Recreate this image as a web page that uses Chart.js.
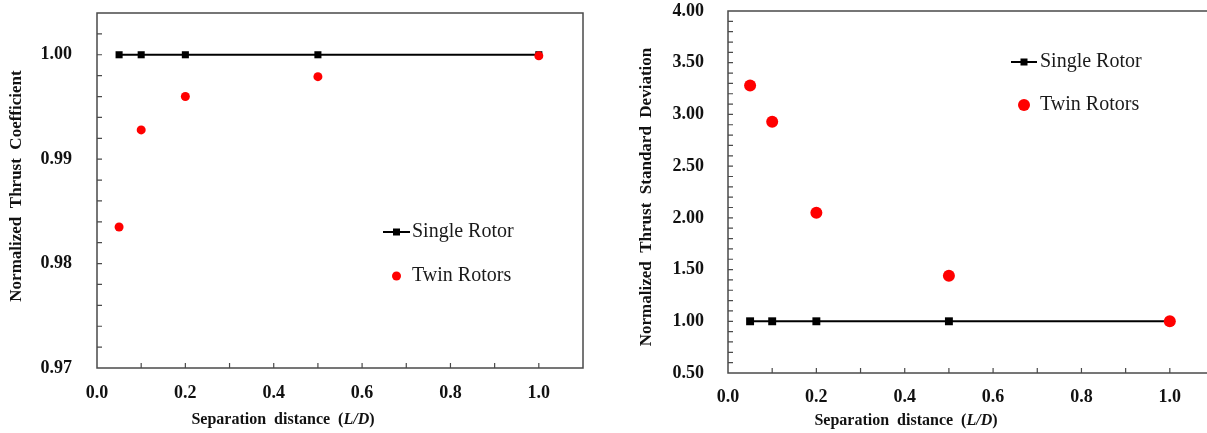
<!DOCTYPE html>
<html>
<head>
<meta charset="utf-8">
<script src="https://cdn.jsdelivr.net/npm/chart.js@4"></script>
<style>
  html, body { margin: 0; padding: 0; background: #fff; overflow: hidden; }
  .wrap { position: absolute; top: 0; height: 433px; }
  #w1 { left: 0; width: 603px; }
  #w2 { left: 603px; width: 620px; }
</style>
</head>
<body>
<div class="wrap" id="w1"><canvas id="c1"></canvas></div>
<div class="wrap" id="w2"><canvas id="c2"></canvas></div>
<script>
// ── Data ───────────────────────────────────────────────
const separation  = [0.05, 0.1, 0.2, 0.5, 1.0];
const singleThrust = [1.0, 1.0, 1.0, 1.0, 1.0];
const twinThrust   = [0.9835, 0.9928, 0.9960, 0.9979, 0.9999];
const singleStd    = [1.0, 1.0, 1.0, 1.0, 1.0];
const twinStd      = [3.28, 2.93, 2.05, 1.44, 1.00];

const SERIF = "'Liberation Serif', 'Times New Roman', serif";
const RED = '#ff0000';

// ── Helpers ────────────────────────────────────────────
const pts = (xs, ys) => xs.map((x, i) => ({ x, y: ys[i] }));
const isStep = (v, s) => Math.abs(v / s - Math.round(v / s)) < 1e-6;

// frame, inside ticks, titles and legend
const framePlugin = {
  id: 'frame',
  beforeDatasetsDraw(chart) {
    const { ctx, chartArea: a, scales: { x, y } } = chart;
    ctx.save();
    ctx.strokeStyle = '#4a4a4a';
    ctx.lineWidth = 1.5;
    ctx.strokeRect(a.left, a.top, a.right - a.left, a.bottom - a.top);
    ctx.lineWidth = 1.2;
    ctx.beginPath();
    x.ticks.forEach(t => {
      const px = x.getPixelForValue(t.value);
      if (px > a.left + 1 && px < a.right - 1) { ctx.moveTo(px, a.bottom); ctx.lineTo(px, a.bottom - 5); }
    });
    y.ticks.forEach(t => {
      const py = y.getPixelForValue(t.value);
      if (py > a.top + 1 && py < a.bottom - 1) { ctx.moveTo(a.left, py); ctx.lineTo(a.left + 5, py); }
    });
    ctx.stroke();
    ctx.restore();
  },
  afterDraw(chart, args, o) {
    const { ctx } = chart;
    ctx.save();
    ctx.fillStyle = '#111';
    // y title
    ctx.font = `bold 17px ${SERIF}`;
    ctx.textAlign = 'center';
    ctx.textBaseline = 'middle';
    ctx.translate(o.yTitleX, o.yTitleY);
    ctx.rotate(-Math.PI / 2);
    ctx.fillText(o.yTitle, 0, 0);
    ctx.setTransform(1, 0, 0, 1, 0, 0);

    // x title with italic L/D
    const parts = [
      ['Separation  distance  (', `bold 16px ${SERIF}`],
      ['L/D', `italic bold 16px ${SERIF}`],
      [')', `bold 16px ${SERIF}`]
    ];
    let total = 0;
    parts.forEach(p => { ctx.font = p[1]; total += ctx.measureText(p[0]).width; });
    let cx = o.xTitleX - total / 2;
    ctx.textAlign = 'left';
    parts.forEach(p => { ctx.font = p[1]; ctx.fillText(p[0], cx, o.xTitleY); cx += ctx.measureText(p[0]).width; });

    // legend
    const L = o.legend;
    ctx.strokeStyle = '#000';
    ctx.lineWidth = 2;
    ctx.beginPath();
    ctx.moveTo(L.lineX0, L.y1); ctx.lineTo(L.lineX1, L.y1);
    ctx.stroke();
    const mx = (L.lineX0 + L.lineX1) / 2;
    ctx.fillStyle = '#000';
    ctx.fillRect(mx - L.sq / 2, L.y1 - L.sq / 2, L.sq, L.sq);
    ctx.fillStyle = RED;
    ctx.beginPath();
    ctx.arc(mx, L.y2, L.dot, 0, Math.PI * 2);
    ctx.fill();
    ctx.fillStyle = '#1a1a1a';
    ctx.font = `20px ${SERIF}`;
    ctx.textBaseline = 'middle';
    ctx.fillText('Single Rotor', L.textX, L.y1);
    ctx.fillText('Twin Rotors', L.textX, L.y2);
    ctx.restore();
  }
};

function makeChart(id, cfg) {
  return new Chart(document.getElementById(id), {
    type: 'scatter',
    data: {
      datasets: [
        {
          label: 'Twin Rotors',
          data: pts(separation, cfg.twin),
          pointStyle: 'circle',
          pointRadius: cfg.dotR,
          backgroundColor: RED,
          borderWidth: 0,
          showLine: false
        },
        {
          label: 'Single Rotor',
          data: pts(separation, cfg.single),
          pointStyle: 'rect',
          pointRadius: cfg.sqR,
          backgroundColor: '#000',
          borderColor: '#000',
          pointBorderWidth: 0,
          borderWidth: 2,
          showLine: true
        }
      ]
    },
    options: {
      responsive: true,
      maintainAspectRatio: false,
      animation: false,
      events: [],
      layout: { padding: cfg.padding },
      plugins: {
        legend: { display: false },
        tooltip: { enabled: false },
        frame: cfg.frame
      },
      scales: {
        x: {
          type: 'linear',
          min: 0, max: 1.1,
          grid: { display: false },
          border: { display: false },
          ticks: {
            stepSize: 0.1, autoSkip: false, maxRotation: 0, padding: cfg.xPad,
            color: '#111', font: { family: SERIF, size: 18, weight: 'bold' },
            callback: v => isStep(v, 0.2) ? v.toFixed(1) : ''
          },
          afterFit: s => { s.height = cfg.xHeight; s.paddingLeft = 0; s.paddingRight = 0; }
        },
        y: {
          type: 'linear',
          min: cfg.yMin, max: cfg.yMax,
          grid: { display: false },
          border: { display: false },
          ticks: {
            stepSize: cfg.yStep, autoSkip: false, padding: cfg.yPad,
            color: '#111', font: { family: SERIF, size: 18, weight: 'bold' },
            callback: v => isStep(v, cfg.yLabelStep) ? v.toFixed(2) : ''
          },
          afterFit: s => { s.width = cfg.yWidth; s.paddingTop = 0; s.paddingBottom = 0; }
        }
      }
    },
    plugins: [framePlugin]
  });
}

// ── Left: thrust coefficient ───────────────────────────
makeChart('c1', {
  twin: twinThrust, single: singleThrust,
  dotR: 4.5, sqR: 5,
  padding: { top: 13, right: 20, left: 0, bottom: 0 },
  xHeight: 65, yWidth: 97, xPad: 7, yPad: 17,
  yMin: 0.97, yMax: 1.004, yStep: 0.002, yLabelStep: 0.01,
  frame: {
    yTitle: 'Normalized  Thrust  Coefficient', yTitleX: 17, yTitleY: 186,
    xTitleX: 283, xTitleY: 420,
    legend: { lineX0: 383, lineX1: 410, textX: 412, y1: 232, y2: 276, sq: 7, dot: 4.5 }
  }
});

// ── Right: thrust standard deviation ───────────────────
makeChart('c2', {
  twin: twinStd, single: singleStd,
  dotR: 6, sqR: 5.6,
  padding: { top: 11, right: 9, left: 0, bottom: 0 },
  xHeight: 60, yWidth: 125, xPad: 6, yPad: 16,
  yMin: 0.5, yMax: 4.0, yStep: 0.1, yLabelStep: 0.5,
  frame: {
    yTitle: 'Normalized  Thrust  Standard  Deviation', yTitleX: 44, yTitleY: 197,
    xTitleX: 303, xTitleY: 421,
    legend: { lineX0: 408, lineX1: 434, textX: 437, y1: 62, y2: 105, sq: 7, dot: 6 }
  }
});
</script>
</body>
</html>
